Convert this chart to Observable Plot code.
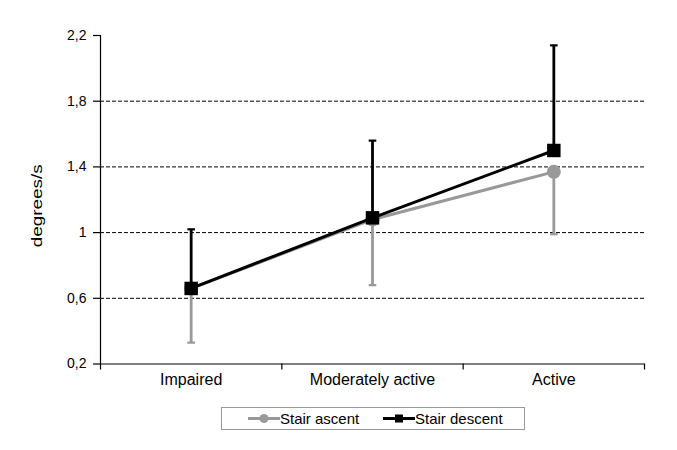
<!DOCTYPE html>
<html>
<head>
<meta charset="utf-8">
<script src="https://cdn.jsdelivr.net/npm/d3@7"></script>
<script src="https://cdn.jsdelivr.net/npm/@observablehq/plot@0.6"></script>
<style>
  html, body { margin: 0; padding: 0; background: #fff; }
  body { width: 677px; height: 450px; position: relative; font-family: "Liberation Sans", Arial, sans-serif; }
  #legend { position: absolute; left: 221px; top: 407px; width: 304px; height: 23px; box-sizing: border-box; border: 1px solid #999; }
  .item { position: absolute; top: 0; height: 21px; display: flex; align-items: center; font-size: 15px; color: #000; }
  .item svg { display: block; }
</style>
</head>
<body>
<div id="chart"></div>
<div id="legend"></div>
<script>
const categories = ["Impaired", "Moderately active", "Active"];
const ascentMean = [0.66, 1.08, 1.37];
const ascentLow = [0.33, 0.68, 0.99];
const descentMean = [0.66, 1.09, 1.50];
const descentHigh = [1.02, 1.56, 2.14];
const yTicks = [0.2, 0.6, 1.0, 1.4, 1.8, 2.2];
const gridTicks = [0.6, 1.0, 1.4, 1.8];
const yLabel = "degrees/s";
const seriesNames = ["Stair ascent", "Stair descent"];
const grey = "#999999";

const xOf = (i) => i + 0.5;
const ascent = categories.map((c, i) => ({cat: c, x: xOf(i), y: ascentMean[i], lo: ascentLow[i]}));
const descent = categories.map((c, i) => ({cat: c, x: xOf(i), y: descentMean[i], hi: descentHigh[i]}));

const capSymbol = {
  draw(ctx, size) {
    const w = Math.sqrt(size / Math.PI);
    ctx.moveTo(-w, 0);
    ctx.lineTo(w, 0);
  }
};
const fmt = (d) => String(+d.toFixed(1)).replace(".", ",");

const chart = Plot.plot({
  width: 677,
  height: 398,
  marginLeft: 100,
  marginRight: 33,
  marginTop: 35,
  marginBottom: 34.5,
  style: { fontFamily: "'Liberation Sans', Arial, sans-serif", color: "#000", background: "#fff" },
  x: { domain: [0, categories.length], axis: null },
  y: { domain: [0.2, 2.2], axis: null },
  marks: [
    Plot.ruleY(gridTicks, { stroke: "#000", strokeWidth: 1, strokeDasharray: "4,2" }),
    Plot.ruleX([0], { stroke: "#000", strokeWidth: 1.2 }),
    Plot.ruleY([0.2], { stroke: "#000", strokeWidth: 1.2 }),
    Plot.axisY({ ticks: yTicks, tickSize: 7, tickPadding: 7, tickFormat: fmt, fontSize: 14, label: null, strokeWidth: 1.2 }),
    Plot.axisX({ ticks: d3.range(categories.length + 1), tickSize: 6, tickFormat: () => "", label: null, strokeWidth: 1.2 }),
    Plot.axisX({ ticks: categories.map((c, i) => xOf(i)), tickSize: 0, tickPadding: 10, tickFormat: (d) => categories[Math.floor(d)], fontSize: 16, label: null }),
    Plot.text([yLabel], { frameAnchor: "left", textAnchor: "middle", dx: -63.5, dy: 6, rotate: -90, fontSize: 15.5, className: "ylabel" }),
    // ascent error bars (down)
    Plot.ruleX(ascent, { x: "x", y1: "y", y2: "lo", stroke: grey, strokeWidth: 2.8 }),
    Plot.dot(ascent, { x: "x", y: "lo", symbol: capSymbol, r: 3.8, stroke: grey, strokeWidth: 2.2, fill: "none" }),
    Plot.line(ascent, { x: "x", y: "y", stroke: grey, strokeWidth: 3 }),
    Plot.dot(ascent, { x: "x", y: "y", r: 7, fill: grey, stroke: "none" }),
    // descent error bars (up)
    Plot.ruleX(descent, { x: "x", y1: "y", y2: "hi", stroke: "#000", strokeWidth: 2.8 }),
    Plot.dot(descent, { x: "x", y: "hi", symbol: capSymbol, r: 3.8, stroke: "#000", strokeWidth: 2.2, fill: "none" }),
    Plot.line(descent, { x: "x", y: "y", stroke: "#000", strokeWidth: 3 }),
    Plot.dot(descent, { x: "x", y: "y", symbol: "square", r: 7.6, fill: "#000", stroke: "none" })
  ]
});
document.getElementById("chart").appendChild(chart);
// stretch the y-axis title lengthwise like the reference
chart.querySelectorAll("text").forEach((t) => {
  if (t.textContent === yLabel) {
    t.setAttribute("textLength", 83);
    t.setAttribute("lengthAdjust", "spacingAndGlyphs");
  }
});

// legend
const legend = document.getElementById("legend");
const items = [
  { name: seriesNames[0], color: grey, shape: "circle", left: 26 },
  { name: seriesNames[1], color: "#000", shape: "square", left: 161 }
];
for (const it of items) {
  const div = document.createElement("div");
  div.className = "item";
  div.style.left = it.left + "px";
  const ns = "http://www.w3.org/2000/svg";
  const s = document.createElementNS(ns, "svg");
  s.setAttribute("width", 32);
  s.setAttribute("height", 21);
  const l = document.createElementNS(ns, "line");
  l.setAttribute("x1", 0); l.setAttribute("x2", 32);
  l.setAttribute("y1", 10.5); l.setAttribute("y2", 10.5);
  l.setAttribute("stroke", it.color); l.setAttribute("stroke-width", 3);
  s.appendChild(l);
  if (it.shape === "circle") {
    const c = document.createElementNS(ns, "circle");
    c.setAttribute("cx", 16); c.setAttribute("cy", 10.5); c.setAttribute("r", 4.5);
    c.setAttribute("fill", it.color);
    s.appendChild(c);
  } else {
    const r = document.createElementNS(ns, "rect");
    r.setAttribute("x", 12); r.setAttribute("y", 6.5); r.setAttribute("width", 8); r.setAttribute("height", 8);
    r.setAttribute("fill", it.color);
    s.appendChild(r);
  }
  div.appendChild(s);
  const t = document.createElement("span");
  t.textContent = it.name;
  div.appendChild(t);
  legend.appendChild(div);
}
</script>
</body>
</html>
